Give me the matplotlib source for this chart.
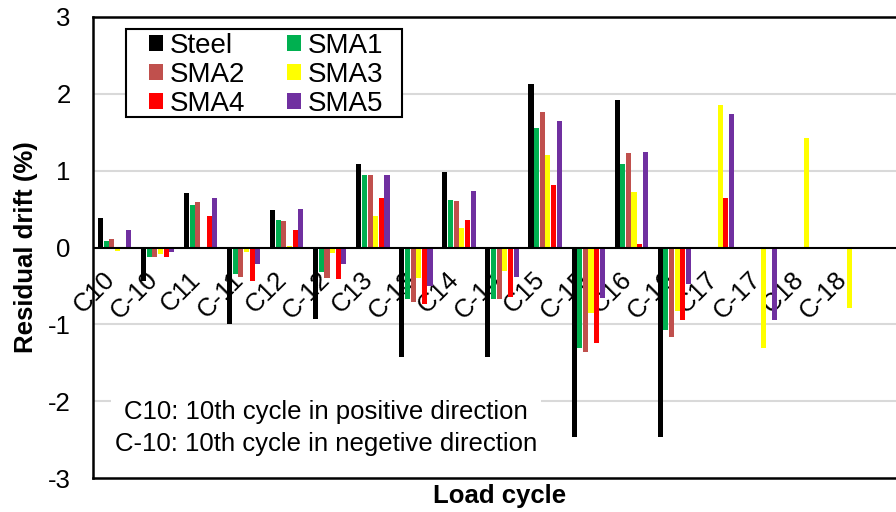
import matplotlib
matplotlib.use("Agg")
import matplotlib.pyplot as plt
import matplotlib.transforms as mtransforms
from matplotlib.patches import Patch, Rectangle
import numpy as np

plt.rcParams['font.family'] = ['Liberation Sans', 'DejaVu Sans']

# Load cycles (positive / negative direction)
cycles = ['C10', 'C-10', 'C11', 'C-11', 'C12', 'C-12', 'C13', 'C-13', 'C14',
          'C-14', 'C15', 'C-15', 'C16', 'C-16', 'C17', 'C-17', 'C18', 'C-18']

# Residual drift (%) per specimen
steel = [0.38, -0.43, 0.71, -0.99, 0.49, -0.93, 1.09, -1.42, 0.98, -1.42,
         2.13, -2.47, 1.92, -2.47, 0, 0, 0, 0]
sma1 = [0.09, -0.12, 0.55, -0.34, 0.36, -0.32, 0.95, -0.67, 0.62, -0.67,
        1.55, -1.31, 1.09, -1.08, 0, 0, 0, 0]
sma2 = [0.11, -0.12, 0.59, -0.38, 0.35, -0.40, 0.95, -0.71, 0.60, -0.67,
        1.77, -1.36, 1.23, -1.17, 0, 0, 0, 0]
sma3 = [-0.04, -0.08, 0, -0.06, 0.02, -0.07, 0.41, -0.40, 0.25, -0.31,
        1.21, -0.85, 0.72, -0.82, 1.85, -1.31, 1.42, -0.79]
sma4 = [0, -0.13, 0.41, -0.43, 0.23, -0.41, 0.64, -0.73, 0.36, -0.65,
        0.81, -1.24, 0.05, -0.95, 0.64, 0, 0, 0]
sma5 = [0.23, -0.06, 0.65, -0.21, 0.50, -0.21, 0.95, -0.50, 0.74, -0.38,
        1.64, -0.66, 1.24, -0.47, 1.74, -0.95, 0, 0]

series_names = ['Steel', 'SMA1', 'SMA2', 'SMA3', 'SMA4', 'SMA5']
series_values = [steel, sma1, sma2, sma3, sma4, sma5]
series_colors = ['#000000', '#00B050', '#C0504D', '#FFFF00', '#FF0000', '#7030A0']

W, H = 896, 512
fig = plt.figure(figsize=(W / 100, H / 100), dpi=100)
ax = fig.add_axes([93 / W, 34 / H, 803 / W, 461 / H])

x = np.arange(len(cycles))
pitch = 0.131
for j, (name, vals, col) in enumerate(zip(series_names, series_values, series_colors)):
    ax.bar(x + (j - 2.5) * pitch, vals, width=pitch * 0.9, color=col,
           label=name, zorder=3, linewidth=0)

ax.set_xlim(-0.5, 18.15)
ax.set_ylim(-3, 3)
ax.set_yticks([-3, -2, -1, 0, 1, 2, 3])
ax.set_yticklabels(['-3', '-2', '-1', '0', '1', '2', '3'], fontsize=18.5)
ax.tick_params(axis='y', length=0, pad=16)
ax.set_xticks([])

for y in [-2, -1, 1, 2]:
    ax.axhline(y, color='#D9D9D9', lw=1.5, zorder=1)
ax.axhline(0, color='black', lw=1.5, zorder=4)

for s in ['top', 'bottom', 'left']:
    ax.spines[s].set_linewidth(1.8)
    ax.spines[s].set_color('black')
ax.spines['right'].set_visible(False)

# Category labels sit just under the zero line, rotated 45 degrees, behind the bars
offset = mtransforms.ScaledTranslation(-12 / 100, -20 / 100, fig.dpi_scale_trans)
for xi, lab in zip(x, cycles):
    ax.text(xi, 0, lab, transform=ax.transData + offset, rotation=45,
            rotation_mode='anchor', ha='right', va='top', fontsize=18.5,
            zorder=2)

ax.set_ylabel('Residual drift (%)', fontsize=18.5, fontweight='bold', labelpad=7)
fig.text(500 / W, 1 - 496 / H, 'Load cycle', fontsize=18.5,
         fontweight='bold', ha='center', va='center')

# Explanatory note in the lower-left corner
fig.text(326 / W, 1 - 428 / H,
         'C10: 10th cycle in positive direction\nC-10: 10th cycle in negetive direction',
         fontsize=18.5, ha='center', va='center', multialignment='center',
         linespacing=1.38, zorder=6,
         bbox=dict(facecolor='white', edgecolor='none', pad=3))

# Legend: white box with black border, two columns of square swatches
box = Rectangle((126 / W, 1 - 117 / H), (402 - 126) / W, (117 - 29) / H,
                transform=fig.transFigure, facecolor='white', edgecolor='black',
                linewidth=1.5, zorder=6)
fig.add_artist(box)

order = [0, 2, 4, 1, 3, 5]
handles = [Patch(facecolor=series_colors[k], edgecolor='none') for k in order]
labels = [series_names[k] for k in order]
leg = fig.legend(handles, labels, ncol=2, loc='upper left',
                 bbox_to_anchor=(149 / W, 1 - 33 / H),
                 fontsize=20, frameon=False, handlelength=0.5, handleheight=0.5,
                 handletextpad=0.25, columnspacing=1.5, labelspacing=0.1,
                 borderpad=0, borderaxespad=0)
leg.set_zorder(7)

fig.savefig('out.png', dpi=100)
